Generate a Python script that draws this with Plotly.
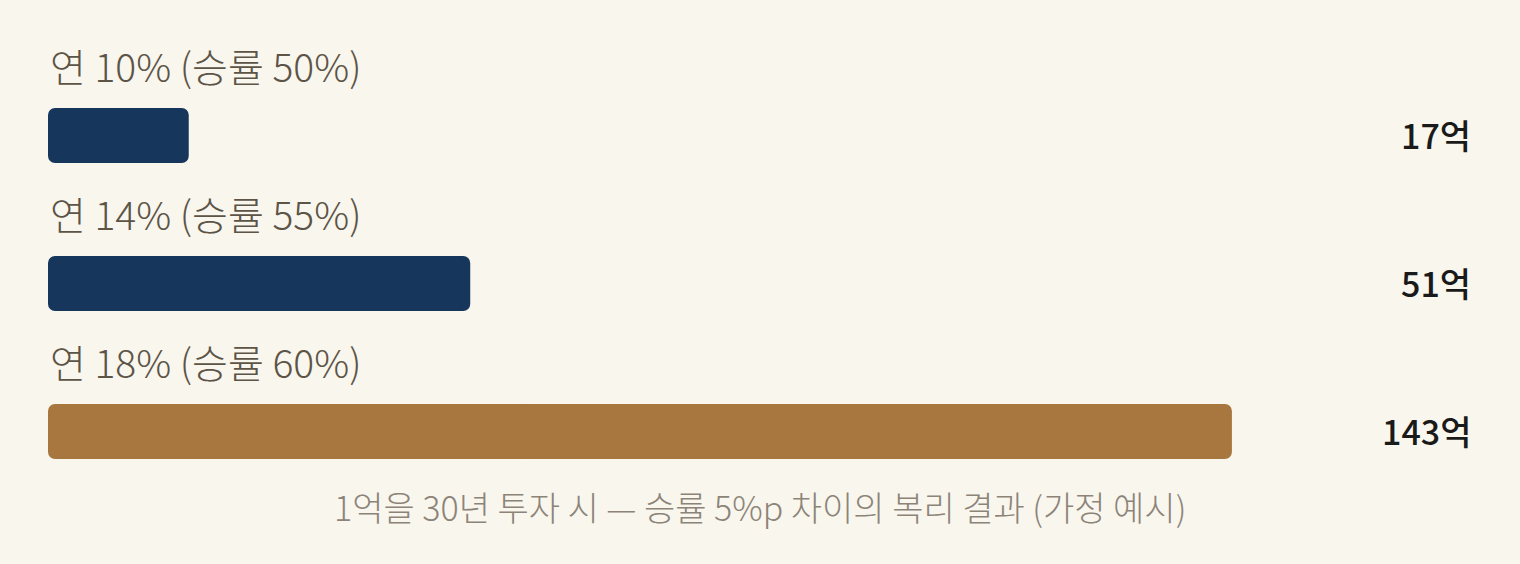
import plotly.graph_objects as go

# data
labels = ["연 10% (승률 50%)", "연 14% (승률 55%)", "연 18% (승률 60%)"]
values = [17, 51, 143]
value_text = ["17억", "51억", "143억"]
bar_colors = ["#17365b", "#17365b", "#a8763f"]
caption = "1억을 30년 투자 시 — 승률 5%p 차이의 복리 결과 (가정 예시)"

BG = "#f9f6ee"
FONT = "Noto Sans CJK KR"

fig = go.Figure()

# each bar drawn as two overlapping pieces so both ends get rounded corners
# left piece: from 0.6v back to 0, right piece: from 0.4v out to v
fig.add_trace(go.Bar(
    x=[-0.6 * v for v in values],
    base=[0.6 * v for v in values],
    y=labels, orientation="h",
    marker=dict(color=bar_colors, line=dict(width=0)),
    width=0.372, hoverinfo="skip",
))
fig.add_trace(go.Bar(
    x=[0.6 * v for v in values],
    base=[0.4 * v for v in values],
    y=labels, orientation="h",
    marker=dict(color=bar_colors, line=dict(width=0)),
    width=0.372, hoverinfo="skip",
))

# category label above each bar
for lab in labels:
    fig.add_annotation(
        x=0, y=lab, xref="x", yref="y",
        text=lab, showarrow=False,
        xanchor="left", yanchor="middle", yshift=71,
        font=dict(family=FONT, size=39, color="#5c5446", weight=300),
    )

# value at right edge
for lab, txt in zip(labels, value_text):
    fig.add_annotation(
        x=1, y=lab, xref="paper", yref="y",
        text=txt, showarrow=False,
        xanchor="right", yanchor="middle", xshift=1, yshift=1,
        font=dict(family=FONT, size=34, color="#1a1a1a", weight=500),
    )

fig.add_annotation(
    x=0.5, y=1 - 506 / 564, xref="paper", yref="paper",
    text=caption, showarrow=False,
    xanchor="center", yanchor="middle",
    font=dict(family=FONT, size=34, color="#8c8478", weight=300),
)

fig.update_layout(
    width=1520, height=564,
    margin=dict(l=48, r=48, t=0, b=0),
    paper_bgcolor=BG, plot_bgcolor=BG,
    barmode="overlay",
    barcornerradius=7,
    showlegend=False,
    xaxis=dict(range=[0, 172], visible=False, fixedrange=True),
    yaxis=dict(range=[2.895, -0.9155], visible=False, fixedrange=True),
)

fig.write_html(
    "out.html",
    config={"displayModeBar": False},
    post_script="document.body.style.margin='0';document.body.style.overflow='hidden';",
)
